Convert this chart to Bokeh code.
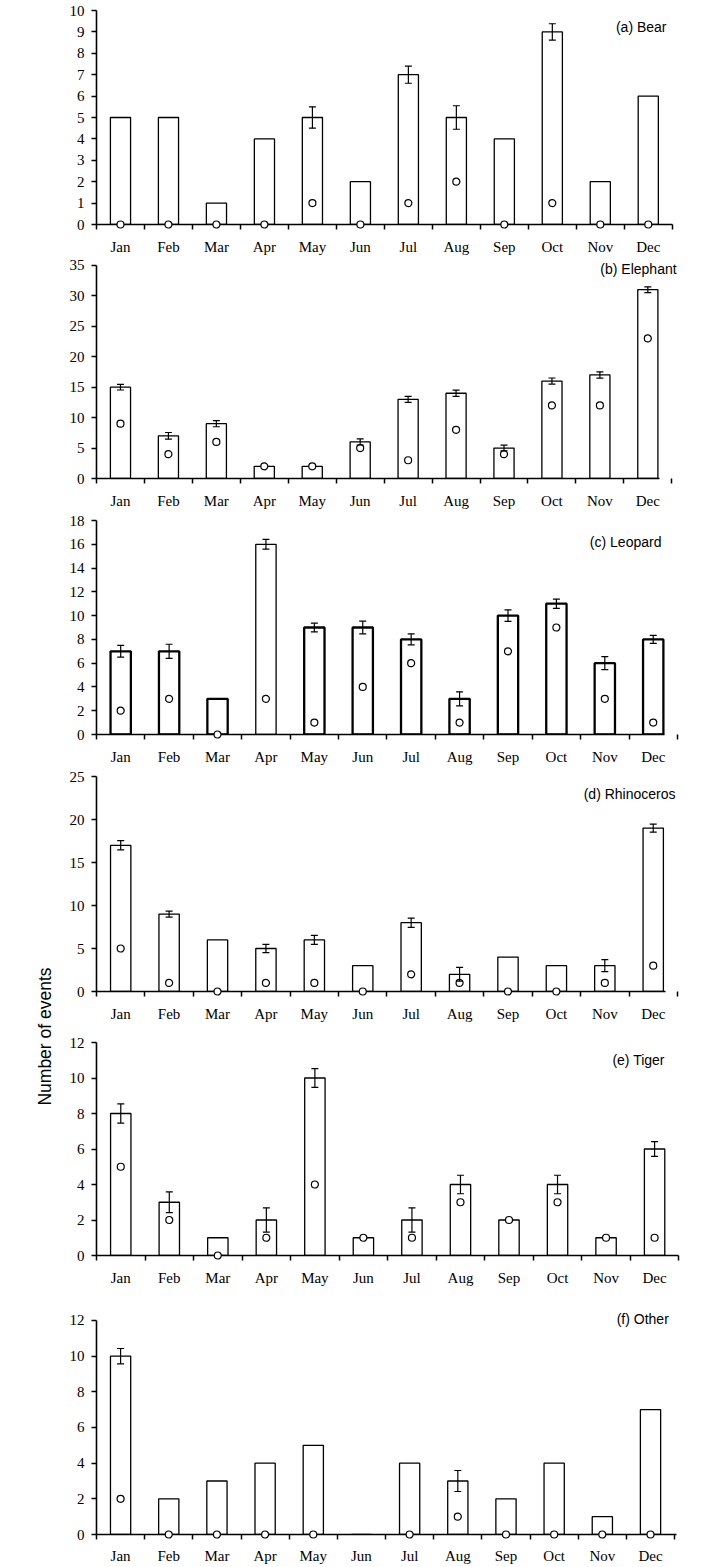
import numpy as np
from bokeh.plotting import figure
from bokeh.layouts import row, column
from bokeh.models import Range1d, FixedTicker, Whisker, TeeHead, ColumnDataSource, Label
from bokeh.embed import file_html
from bokeh.resources import INLINE

months = ["Jan", "Feb", "Mar", "Apr", "May", "Jun", "Jul", "Aug", "Sep", "Oct", "Nov", "Dec"]

bear_counts = [5, 5, 1, 4, 5, 2, 7, 5, 4, 9, 2, 6]
bear_err = [0, 0, 0, 0, 0.5, 0, 0.4, 0.55, 0, 0.38, 0, 0]
bear_dots = [0, 0, 0, 0, 1, 0, 1, 2, 0, 1, 0, 0]

elephant_counts = [15, 7, 9, 2, 2, 6, 13, 14, 5, 16, 17, 31]
elephant_err = [0.47, 0.55, 0.5, 0, 0, 0.5, 0.5, 0.52, 0.47, 0.5, 0.52, 0.47]
elephant_dots = [9, 4, 6, 2, 2, 5, 3, 8, 4, 12, 12, 23]

leopard_counts = [7, 7, 3, 16, 9, 9, 8, 3, 10, 11, 6, 8]
leopard_err = [0.49, 0.59, 0, 0.41, 0.36, 0.53, 0.46, 0.59, 0.49, 0.39, 0.55, 0.34]
leopard_dots = [2, 3, 0, 3, 1, 4, 6, 1, 7, 9, 3, 1]

rhino_counts = [17, 9, 6, 5, 6, 3, 8, 2, 4, 3, 3, 19]
rhino_err = [0.54, 0.35, 0, 0.48, 0.52, 0, 0.54, 0.8, 0, 0, 0.7, 0.47]
rhino_dots = [5, 1, 0, 1, 1, 0, 2, 1, 0, 0, 1, 3]

tiger_counts = [8, 3, 1, 2, 10, 1, 2, 4, 2, 4, 1, 6]
tiger_err = [0.54, 0.58, 0, 0.68, 0.53, 0, 0.68, 0.52, 0, 0.52, 0, 0.42]
tiger_dots = [5, 2, 0, 1, 4, 1, 1, 3, 2, 3, 1, 1]

other_counts = [10, 2, 3, 4, 5, 0, 4, 3, 2, 4, 1, 7]
other_err = [0.43, 0, 0, 0, 0, 0, 0, 0.59, 0, 0, 0, 0]
other_dots = [2, 0, 0, 0, 0, None, 0, 1, 0, 0, 0, 0]

titles = ["(a) Bear", "(b) Elephant", "(c) Leopard", "(d) Rhinoceros", "(e) Tiger", "(f) Other"]
y_max = [10, 35, 18, 25, 12, 12]
y_step = [1, 5, 2, 5, 2, 2]

SERIF = "Liberation Serif"
SANS = "Liberation Sans"
LEFT_W = 56
PANEL_W = 658
FRAME_RIGHT = 690


def make_panel(title, counts, err, dots, ymax, ystep, layout, thick=None):
    h, frame_left, bt, bb, xend, xbound, yend, lx, ly, stand = layout
    p = figure(width=PANEL_W, height=h, output_backend="svg", toolbar_location=None,
               x_range=Range1d(0.5, xend), y_range=Range1d(0, yend),
               min_border_left=frame_left - LEFT_W,
               min_border_right=LEFT_W + PANEL_W - FRAME_RIGHT,
               min_border_top=bt, min_border_bottom=bb)
    p.xgrid.visible = False
    p.ygrid.visible = False
    p.outline_line_color = None
    p.background_fill_color = "white"
    p.border_fill_color = "white"

    x = np.arange(1, 13)
    lw = [1.3] * 12 if thick is None else thick
    src = ColumnDataSource(dict(x=x, top=counts, lw=lw))
    p.vbar(x="x", top="top", width=0.42, source=src, fill_color="white",
           line_color="black", line_width="lw")

    e = np.array(err, dtype=float)
    c = np.array(counts, dtype=float)
    m = e > 0
    wsrc = ColumnDataSource(dict(x=x[m], upper=c[m] + e[m], lower=c[m] - e[m]))
    wh = Whisker(source=wsrc, base="x", upper="upper", lower="lower",
                 dimension="height", level="annotation",
                 line_color="black", line_width=1.2,
                 upper_head=TeeHead(size=7, line_width=1.2, line_color="black"),
                 lower_head=TeeHead(size=7, line_width=1.2, line_color="black"))
    p.add_layout(wh)

    dy = np.array([np.nan if v is None else v for v in dots], dtype=float)
    p.scatter(x, dy, size=7, marker="circle", fill_color="white",
              line_color="black", line_width=1.2, level="annotation")

    xa = p.xaxis[0]
    xa.axis_label = None
    xa.ticker = FixedTicker(ticks=list(range(1, 13)),
                            minor_ticks=[i + 0.5 for i in range(0, 13)])
    xa.bounds = (0.5, xbound)
    xa.major_label_overrides = {i + 1: mth for i, mth in enumerate(months)}
    xa.major_tick_out = 0
    xa.major_tick_in = 0
    xa.minor_tick_out = 5
    xa.minor_tick_in = 0
    xa.minor_tick_line_width = 1.5
    xa.axis_line_width = 1.6
    xa.major_label_standoff = stand
    xa.major_label_text_font = SERIF
    xa.major_label_text_font_size = "15px"
    xa.major_label_text_color = "black"

    ya = p.yaxis[0]
    ya.axis_label = None
    ya.ticker = FixedTicker(ticks=list(range(0, ymax + 1, ystep)))
    ya.bounds = (0, ymax)
    ya.major_tick_out = 5
    ya.major_tick_in = 0
    ya.minor_tick_out = 0
    ya.minor_tick_in = 0
    ya.major_tick_line_width = 1.5
    ya.axis_line_width = 1.6
    ya.major_label_standoff = 7
    ya.major_label_text_font = SERIF
    ya.major_label_text_font_size = "15px"
    ya.major_label_text_color = "black"

    p.add_layout(Label(x=lx, y=ly, text=title, text_align="right",
                       text_baseline="middle", text_font=SANS,
                       text_font_size="14px", text_color="black"))
    return p


# layout: height, frame left (px), border top, border bottom, x end, x-axis bound,
#         y end, label x, label y, x-label standoff
layouts = [
    (257, 87, 10, 33, 12.88, 12.5, 10, 12.38, 9.25, 9),
    (255, 92, 2, 34, 12.89, 12.24, 35.96, 12.6, 34.48, 9),
    (256, 93, 8, 34, 12.77, 12.24, 18, 12.17, 16.15, 9),
    (265, 94, 8, 42, 12.77, 12.25, 25, 12.46, 23.0, 9),
    (267, 94, 9, 45, 12.74, 12.5, 12, 12.21, 11.04, 9),
    (266, 96, 6, 32, 12.83, 12.53, 12.785, 12.38, 12.11, 8),
]

leopard_lw = [2.3, 2.3, 2.3, 1.3, 2.3, 2.3, 2.3, 2.3, 2.3, 2.3, 2.3, 2.3]

series = [
    (bear_counts, bear_err, bear_dots, None),
    (elephant_counts, elephant_err, elephant_dots, None),
    (leopard_counts, leopard_err, leopard_dots, leopard_lw),
    (rhino_counts, rhino_err, rhino_dots, None),
    (tiger_counts, tiger_err, tiger_dots, None),
    (other_counts, other_err, other_dots, None),
]

panels = []
for i, (cts, er, dt, th) in enumerate(series):
    panels.append(make_panel(titles[i], cts, er, dt, y_max[i], y_step[i], layouts[i], th))

total_h = sum(l[0] for l in layouts)
lf = figure(width=LEFT_W, height=total_h, output_backend="svg", toolbar_location=None,
            x_range=Range1d(0, LEFT_W), y_range=Range1d(0, total_h),
            x_axis_location=None, y_axis_location=None,
            min_border_left=0, min_border_right=0, min_border_top=0, min_border_bottom=0)
lf.xgrid.visible = False
lf.ygrid.visible = False
lf.outline_line_color = None
lf.add_layout(Label(x=44, y=total_h - 1036, text="Number of events", angle=np.pi / 2,
                    text_align="center", text_baseline="middle",
                    text_font=SANS, text_font_size="17.5px", text_color="black"))

layout = row(lf, column(*panels))
open("out.html", "w").write(file_html(layout, INLINE))
